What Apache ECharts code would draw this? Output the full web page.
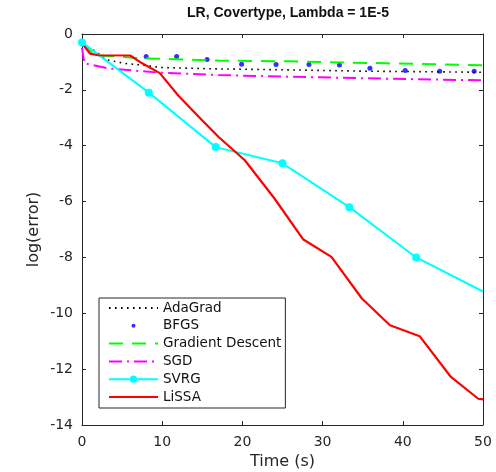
<!DOCTYPE html>
<html>
<head>
<meta charset="utf-8">
<title>LR, Covertype, Lambda = 1E-5</title>
<script src="https://cdn.jsdelivr.net/npm/echarts@6/dist/echarts.min.js"></script>
<style>
  html, body { margin: 0; padding: 0; background: #fff; }
  #chart { width: 496px; height: 472px; }
</style>
</head>
<body>
<div id="chart"></div>
<script>
// values: time (s) and log(error)
const adaX = [0, 1.3, 3.2, 5.3, 7.4, 10, 17, 25, 35, 50];
const adaY = [-0.4, -0.55, -0.93, -1.05, -1.11, -1.2, -1.25, -1.28, -1.33, -1.37];

const bfgsX = [8, 11.8, 15.6, 19.9, 24.2, 28.3, 32.1, 35.9, 40.3, 44.6, 48.9];
const bfgsY = [-0.81, -0.81, -0.91, -1.08, -1.09, -1.09, -1.11, -1.23, -1.31, -1.33, -1.33];

const gdX = [0, 1.5, 7.4, 17, 26, 38, 50];
const gdY = [-0.33, -0.75, -0.87, -0.95, -0.98, -1.05, -1.12];

const sgdX = [0, 0.3, 3.2, 9.5, 17, 26, 38, 50];
const sgdY = [-0.5, -1.05, -1.23, -1.38, -1.47, -1.53, -1.6, -1.66];

const svrgX = [0, 8.33, 16.67, 25, 33.33, 41.67, 50];
const svrgY = [-0.3, -2.1, -4.05, -4.63, -6.2, -8.0, -9.22];

const lissaX = [0, 1, 2, 6, 7.5, 9.7, 12, 15, 17, 20.3, 24, 27.6, 31.1, 34.9, 38.4, 42.1, 46, 49.4, 50];
const lissaY = [-0.33, -0.7, -0.76, -0.77, -1.05, -1.4, -2.2, -3.1, -3.68, -4.52, -5.89, -7.36, -7.98, -9.47, -10.43, -10.82, -12.28, -13.06, -13.08];

const xTicks = [0, 10, 20, 30, 40, 50];
const yTicks = [0, -2, -4, -6, -8, -10, -12, -14];

const FONT = 'DejaVu Sans';
const INK = '#262626';

function pairs(xs, ys) {
    return xs.map((x, i) => [x, ys[i]]);
}

// the last SVRG point sits on the right border without a marker
const svrgData = pairs(svrgX, svrgY).map((p, i) =>
    i === svrgX.length - 1 ? { value: p, symbol: 'none' } : p);

const chart = echarts.init(document.getElementById('chart'), null, { renderer: 'canvas' });

// box sides (top / right): line and inward ticks, no labels
function sideAxis(extra) {
    return Object.assign({
        type: 'value',
        axisLine: { show: true, onZero: false, lineStyle: { color: INK, width: 1 } },
        axisTick: { show: true, inside: true, length: 4, lineStyle: { color: INK } },
        axisLabel: { show: false },
        splitLine: { show: false }
    }, extra);
}

const option = {
    animation: false,
    backgroundColor: '#fff',
    title: {
        text: 'LR, Covertype, Lambda = 1E-5',
        left: 283,
        textAlign: 'center',
        top: 1,
        textStyle: { fontFamily: 'Liberation Sans', fontWeight: 'bold', fontSize: 14, color: '#111' }
    },
    grid: { left: 82, right: 13, top: 34, bottom: 47, outerBoundsMode: 'none', containLabel: false },
    legend: {
        orient: 'vertical',
        left: 99,
        top: 298,
        padding: [3, 4, 4, 9],
        itemWidth: 49,
        itemHeight: 9,
        itemGap: 3.8,
        backgroundColor: '#fff',
        borderColor: INK,
        borderWidth: 1,
        borderRadius: 0,
        textStyle: { fontFamily: FONT, fontSize: 13.5, color: '#111' },
        data: [
            'AdaGrad',
            { name: 'BFGS', icon: 'path://M0,0M49,9M22.5,4.5a2,2 0 1,0 4,0a2,2 0 1,0 -4,0z' },
            'Gradient Descent',
            'SGD',
            'SVRG',
            'LiSSA'
        ]
    },
    xAxis: [{
        type: 'value',
        min: 0, max: 50, interval: 10,
        name: 'Time (s)',
        nameLocation: 'middle',
        nameGap: 29,
        nameTextStyle: { fontFamily: FONT, fontSize: 16, color: INK },
        axisLine: { onZero: false, lineStyle: { color: INK, width: 1 } },
        axisTick: { inside: true, length: 4, lineStyle: { color: INK } },
        axisLabel: { margin: 10, fontFamily: FONT, fontSize: 14, color: INK,
            customValues: xTicks },
        splitLine: { show: false }
    }, sideAxis({ position: 'top', min: 0, max: 50, interval: 10 })],
    yAxis: [{
        type: 'value',
        min: -14, max: 0, interval: 2,
        name: 'log(error)',
        nameLocation: 'middle',
        nameGap: 40,
        nameMoveOverlap: false,
        nameTextStyle: { fontFamily: FONT, fontSize: 16, color: INK },
        axisLine: { show: true, onZero: false, lineStyle: { color: INK, width: 1 } },
        axisTick: { show: true, inside: true, length: 4, lineStyle: { color: INK } },
        axisLabel: { margin: 9, fontFamily: FONT, fontSize: 14, color: INK,
            customValues: yTicks },
        splitLine: { show: false }
    }, sideAxis({ position: 'right', min: -14, max: 0, interval: 2 })],
    series: [{
        name: 'AdaGrad',
        type: 'line',
        data: pairs(adaX, adaY),
        symbol: 'none',
        itemStyle: { color: '#000', opacity: 0 },
        lineStyle: { color: '#000', width: 1.6, type: [1.6, 4.4] }
    }, {
        name: 'BFGS',
        type: 'scatter',
        data: pairs(bfgsX, bfgsY),
        symbol: 'circle',
        symbolSize: 5,
        itemStyle: { color: '#0000ff' }
    }, {
        name: 'Gradient Descent',
        type: 'line',
        data: pairs(gdX, gdY),
        symbol: 'none',
        itemStyle: { color: '#00ff00', opacity: 0 },
        lineStyle: { color: '#00ff00', width: 2, type: [14, 9] }
    }, {
        name: 'SGD',
        type: 'line',
        data: pairs(sgdX, sgdY),
        symbol: 'none',
        itemStyle: { color: '#ff00ff', opacity: 0 },
        lineStyle: { color: '#ff00ff', width: 2, type: [13, 5, 2, 5] }
    }, {
        name: 'SVRG',
        type: 'line',
        data: svrgData,
        symbol: 'circle',
        symbolSize: 8,
        itemStyle: { color: '#00ffff' },
        lineStyle: { color: '#00ffff', width: 2 }
    }, {
        name: 'LiSSA',
        type: 'line',
        data: pairs(lissaX, lissaY),
        symbol: 'none',
        itemStyle: { color: '#ff0000', opacity: 0 },
        lineStyle: { color: '#ff0000', width: 2.2 }
    }]
};

chart.setOption(option);
</script>
</body>
</html>
